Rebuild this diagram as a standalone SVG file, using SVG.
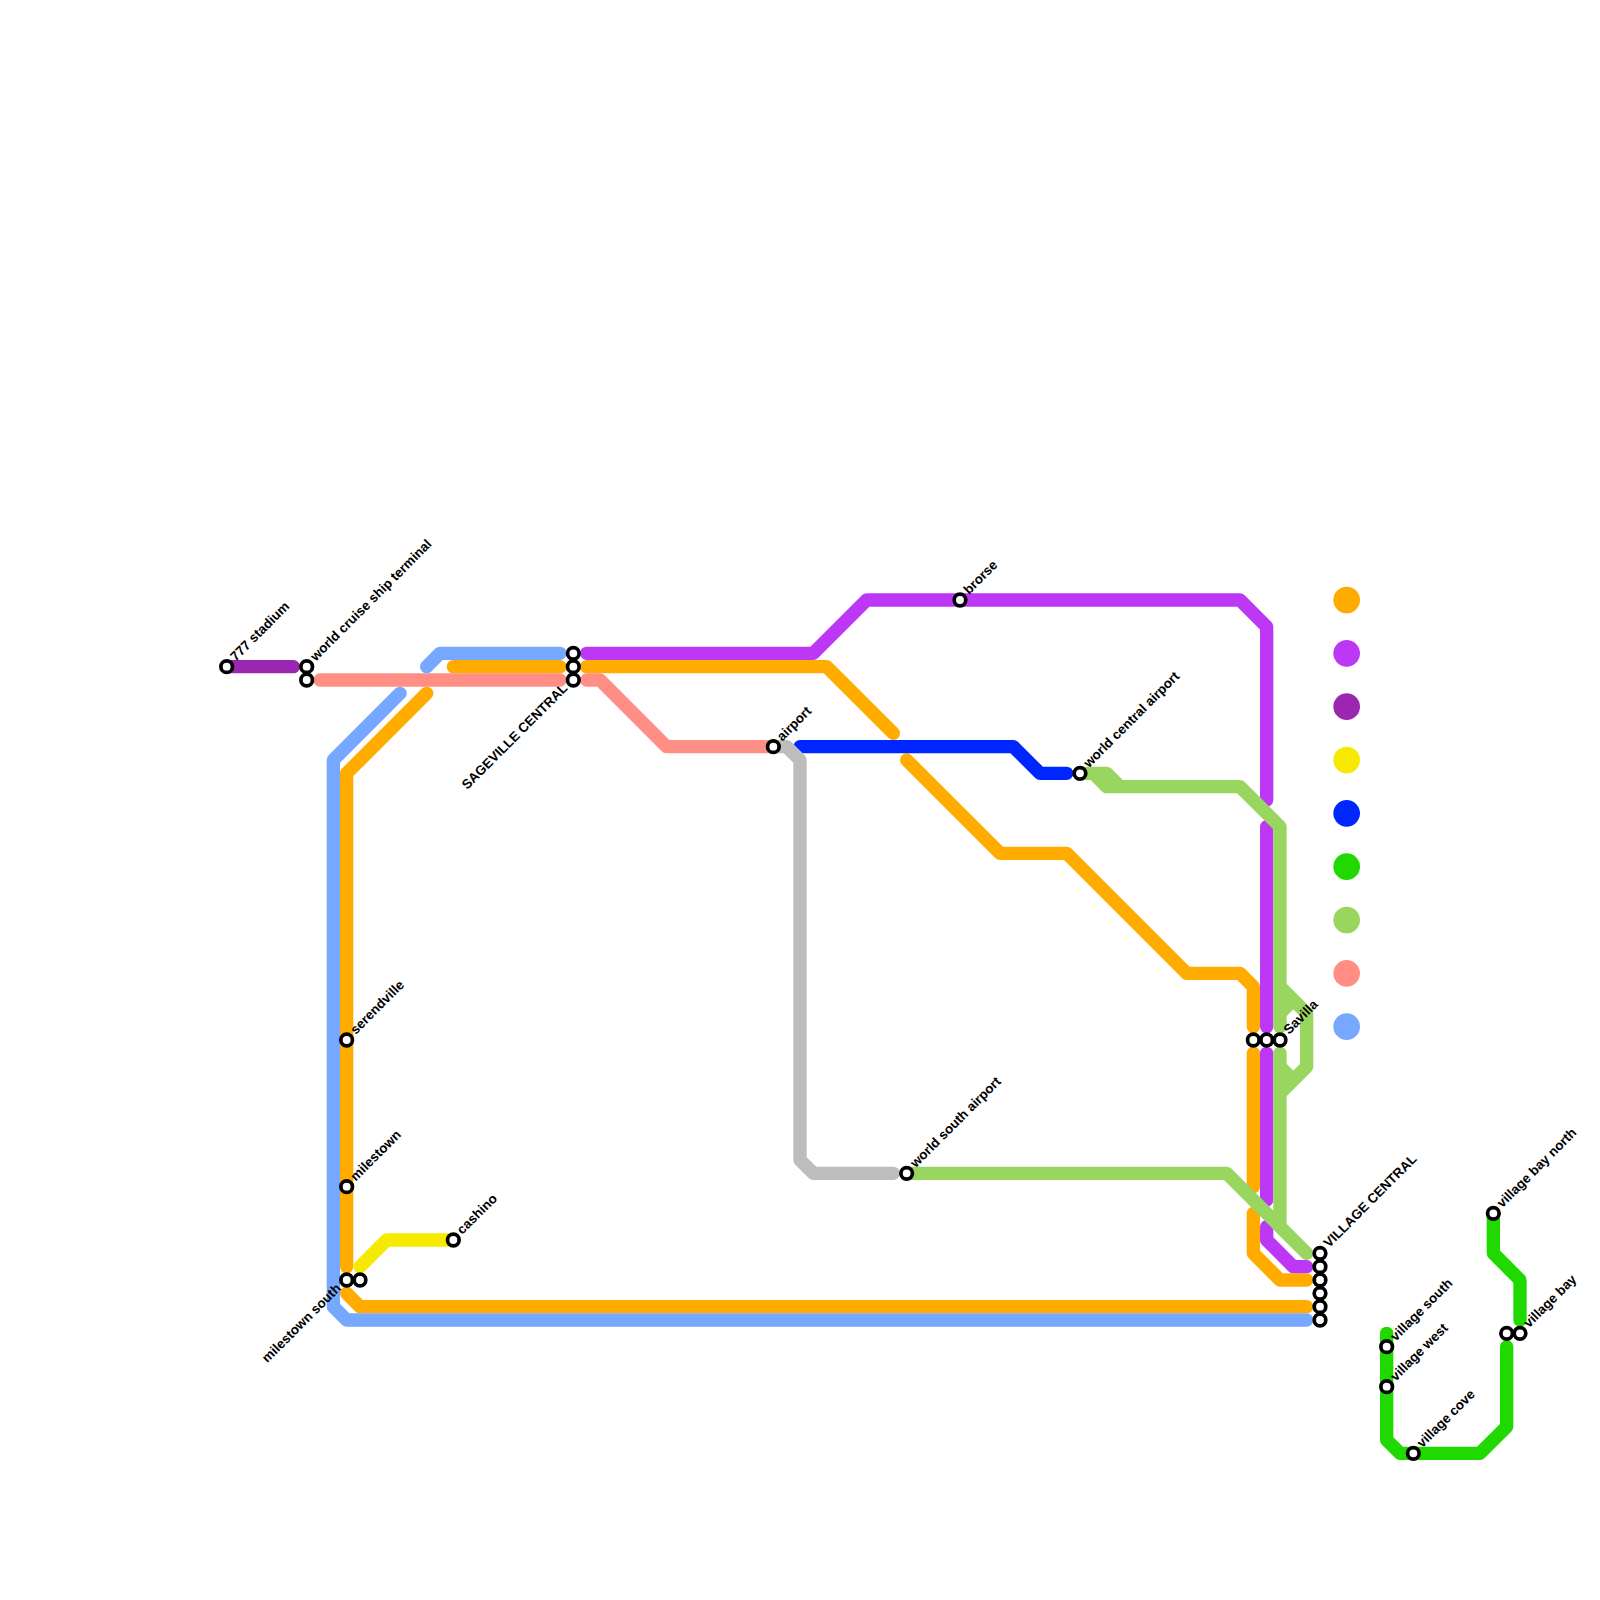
<svg xmlns="http://www.w3.org/2000/svg" width="1600" height="1600" viewBox="0 0 1600 1600">
<style>
.l{fill:none;stroke-width:1;stroke-linecap:round;stroke-linejoin:round}
.o{stroke:#ffab00}.m{stroke:#bd38f5}.p{stroke:#9b27b0}.y{stroke:#f5ea00}.b{stroke:#0026ff}.g{stroke:#1fd900}.n{stroke:#99d660}.s{stroke:#ff8e85}.u{stroke:#77a8ff}.c{stroke:#bdbdbd}
.st circle{fill:#fff;stroke:#000;stroke-width:3.7}
text{font-family:"Liberation Sans",Arial,sans-serif;font-weight:bold;font-size:13.33px;fill:#000}
.e{text-anchor:end}
</style>
<rect width="1600" height="1600" fill="#fff"/>
<g id="connectors" transform="scale(13.3333)">
<path class="l o" d="M32 52L26 58V95M26 97L27 98H98M34 50H42M44 50H62L67 55M68 57L75 64H80L89 73H93L94 74V77M94 79V89M94 91V94L96 96H98"/>
<path class="l m" d="M44 49H61L65 45H93L95 47V60M95 62V77M95 79V90M95 92V93L97 95H98"/>
<path class="l p" d="M17 50H22"/>
<path class="l y" d="M27 95L29 93H34"/>
<path class="l b" d="M60 56H76L78 58H80"/>
<path class="l g" d="M104 100V108L105 109H111L113 107V101M112 91V94L114 96V99"/>
<path class="l n" d="M81 58H83L84 59H93L96 62V77M81 58H82L83 59H84M68 88H92L98 94M96 79V92L98 94M96 74L98 76V80L96 82M96 76L97 75M96 80L97 81"/>
<path class="l s" d="M24 51H42M44 51H45L50 56H58"/>
<path class="l u" d="M32 50L33 49H42M30 52L25 57V98L26 99H98"/>
<path class="l c" d="M58 56H59L60 57V87L61 88H67"/>
</g>
<g id="legend">
<circle cx="1346.67" cy="600" r="13.33" fill="#ffab00"/>
<circle cx="1346.67" cy="653.33" r="13.33" fill="#bd38f5"/>
<circle cx="1346.67" cy="706.67" r="13.33" fill="#9b27b0"/>
<circle cx="1346.67" cy="760" r="13.33" fill="#f5ea00"/>
<circle cx="1346.67" cy="813.33" r="13.33" fill="#0026ff"/>
<circle cx="1346.67" cy="866.67" r="13.33" fill="#1fd900"/>
<circle cx="1346.67" cy="920" r="13.33" fill="#99d660"/>
<circle cx="1346.67" cy="973.33" r="13.33" fill="#ff8e85"/>
<circle cx="1346.67" cy="1026.67" r="13.33" fill="#77a8ff"/>
</g>
<g id="n-777-stadium" class="st"><circle cx="226.67" cy="666.67" r="5.8"/><text transform="translate(235.67 661.67) rotate(-45)">777 stadium</text></g>
<g id="n-world-cruise" class="st"><circle cx="306.67" cy="666.67" r="5.8"/><circle cx="306.67" cy="680" r="5.8"/><text transform="translate(315.67 661.67) rotate(-45)">world cruise ship terminal</text></g>
<g id="n-sageville" class="st"><circle cx="573.33" cy="653.33" r="5.8"/><circle cx="573.33" cy="666.67" r="5.8"/><circle cx="573.33" cy="680" r="5.8"/><text class="e" transform="translate(568.33 689) rotate(-45)">SAGEVILLE CENTRAL</text></g>
<g id="n-airport" class="st"><circle cx="773.33" cy="746.67" r="5.8"/><text transform="translate(782.33 741.67) rotate(-45)">airport</text></g>
<g id="n-brorse" class="st"><circle cx="960" cy="600" r="5.8"/><text transform="translate(969 595) rotate(-45)">brorse</text></g>
<g id="n-world-central" class="st"><circle cx="1080" cy="773.33" r="5.8"/><text transform="translate(1089 768.33) rotate(-45)">world central airport</text></g>
<g id="n-world-south" class="st"><circle cx="906.67" cy="1173.33" r="5.8"/><text transform="translate(915.67 1168.33) rotate(-45)">world south airport</text></g>
<g id="n-savilla" class="st"><circle cx="1253.33" cy="1040" r="5.8"/><circle cx="1266.67" cy="1040" r="5.8"/><circle cx="1280" cy="1040" r="5.8"/><text transform="translate(1289 1035) rotate(-45)">Savilla</text></g>
<g id="n-village-central" class="st"><circle cx="1320" cy="1253.33" r="5.8"/><circle cx="1320" cy="1266.67" r="5.8"/><circle cx="1320" cy="1280" r="5.8"/><circle cx="1320" cy="1293.33" r="5.8"/><circle cx="1320" cy="1306.67" r="5.8"/><circle cx="1320" cy="1320" r="5.8"/><text transform="translate(1329 1248.33) rotate(-45)">VILLAGE CENTRAL</text></g>
<g id="n-serendville" class="st"><circle cx="346.67" cy="1040" r="5.8"/><text transform="translate(355.67 1035) rotate(-45)">serendville</text></g>
<g id="n-milestown" class="st"><circle cx="346.67" cy="1186.67" r="5.8"/><text transform="translate(355.67 1181.67) rotate(-45)">milestown</text></g>
<g id="n-milestown-south" class="st"><circle cx="346.67" cy="1280" r="5.8"/><circle cx="360" cy="1280" r="5.8"/><text class="e" transform="translate(341.67 1289) rotate(-45)">milestown south</text></g>
<g id="n-cashino" class="st"><circle cx="453.33" cy="1240" r="5.8"/><text transform="translate(462.33 1235) rotate(-45)">cashino</text></g>
<g id="n-village-south" class="st"><circle cx="1386.67" cy="1346.67" r="5.8"/><text transform="translate(1395.67 1341.67) rotate(-45)">village south</text></g>
<g id="n-village-west" class="st"><circle cx="1386.67" cy="1386.67" r="5.8"/><text transform="translate(1395.67 1381.67) rotate(-45)">village west</text></g>
<g id="n-village-cove" class="st"><circle cx="1413.33" cy="1453.33" r="5.8"/><text transform="translate(1422.33 1448.33) rotate(-45)">village cove</text></g>
<g id="n-village-bay-north" class="st"><circle cx="1493.33" cy="1213.33" r="5.8"/><text transform="translate(1502.33 1208.33) rotate(-45)">village bay north</text></g>
<g id="n-village-bay" class="st"><circle cx="1506.67" cy="1333.33" r="5.8"/><circle cx="1520" cy="1333.33" r="5.8"/><text transform="translate(1529 1328.33) rotate(-45)">village bay</text></g>
</svg>
